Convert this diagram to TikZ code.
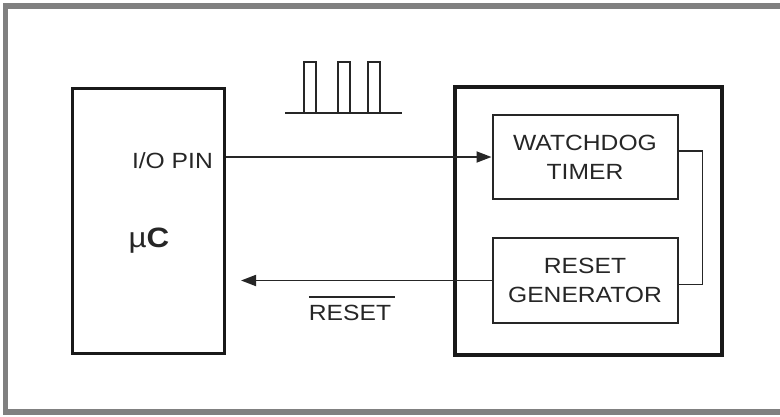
\documentclass[tikz,border=0pt]{standalone}
\usepackage{fontspec}
\setmainfont[FakeStretch=1.12]{Liberation Sans}
\usetikzlibrary{arrows.meta}

% bar over a label (active-low signal)
\newcommand{\barred}[1]{\setbox0=\hbox{#1}\rlap{\raisebox{\dimexpr\ht0+7pt\relax}{\rule{\dimexpr\wd0+4pt\relax}{1.5pt}}}\box0}

\begin{document}
\begin{tikzpicture}[x=1pt,y=-1pt,
  block/.style={draw=black!85,line width=2pt,minimum width=185pt,minimum height=84pt,
    align=center,inner sep=0pt,text=black!85,font=\fontsize{22}{29}\selectfont},
  label/.style={inner sep=0pt,text=black!85,font=\fontsize{22}{29}\selectfont},
  wire/.style={draw=black!85,line width=1.8pt},
  tip/.style={-{Triangle[length=15pt,width=11pt]}}]

\useasboundingbox (0,0) rectangle (780,416);

% Gray frame
\draw[black!50,line width=5.5pt] (790,6) -- (5.5,6) -- (5.5,412) -- (790,412);

% Microcontroller
\node[draw=black!90,line width=3pt,minimum width=152pt,minimum height=265pt] (uc) at (148,220.5) {};
\node[label,anchor=base,font=\fontsize{28}{32}\selectfont] (ucname) at (149,247) {µ\textbf{C}};
\node[label,anchor=base east] (iopin) at (213,168) {I/O PIN};

% Supervisor with watchdog
\node[draw=black!90,line width=3.5pt,minimum width=267pt,minimum height=268pt] (sup) at (588.5,221) {};
\node[block] (wdt) at (585,157) {WATCHDOG\\TIMER};
\node[block,minimum height=85pt] (rst) at (585,280.5) {RESET\\GENERATOR};

% Pulses on the I/O line
\draw[wire,line width=1.6pt] (285,113) -- (402,113);
\foreach \x in {304,338,368}
  \draw[wire,line width=1.6pt] (\x,113) rectangle (\x+12,62);

% Connections
\draw[wire,tip] (uc.east |- wdt.west) -- (wdt.west);
\draw[wire] ([yshift=6pt]wdt.east) -- ++(24,0) |- ([yshift=-4pt]rst.east);
\coordinate (rstend) at (241,280.5);
\draw[wire,tip] (rst.west) -- (rstend);
\node[label,anchor=base] (rstlabel) at (350,320) {\barred{RESET}};

\end{tikzpicture}
\end{document}
